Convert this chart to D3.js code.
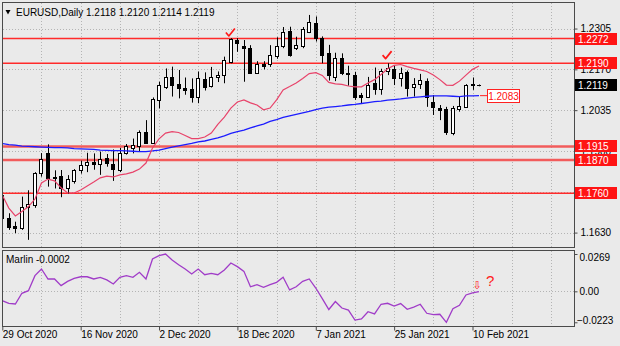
<!DOCTYPE html>
<html><head><meta charset="utf-8">
<script src="https://cdn.jsdelivr.net/npm/d3@7"></script>
<style>
html,body{margin:0;padding:0;background:#eaeaea;}
svg{display:block;font-family:"Liberation Sans",Arial,sans-serif;}
</style></head><body>
<svg id="c" width="620" height="346"></svg>
<script>
const dates = ["2020-10-29","2020-10-30","2020-11-02","2020-11-03","2020-11-04","2020-11-05","2020-11-06","2020-11-09","2020-11-10","2020-11-11",
"2020-11-12","2020-11-13","2020-11-16","2020-11-17","2020-11-18","2020-11-19","2020-11-20","2020-11-23","2020-11-24","2020-11-25",
"2020-11-26","2020-11-27","2020-11-30","2020-12-01","2020-12-02","2020-12-03","2020-12-04","2020-12-07","2020-12-08","2020-12-09",
"2020-12-10","2020-12-11","2020-12-14","2020-12-15","2020-12-16","2020-12-17","2020-12-18","2020-12-21","2020-12-22","2020-12-23",
"2020-12-24","2020-12-28","2020-12-29","2020-12-30","2020-12-31","2021-01-04","2021-01-05","2021-01-06","2021-01-07","2021-01-08",
"2021-01-11","2021-01-12","2021-01-13","2021-01-14","2021-01-15","2021-01-18","2021-01-19","2021-01-20","2021-01-21","2021-01-22",
"2021-01-25","2021-01-26","2021-01-27","2021-01-28","2021-01-29","2021-02-01","2021-02-02","2021-02-03","2021-02-04","2021-02-05",
"2021-02-08","2021-02-09","2021-02-10","2021-02-11"];

const open = [1.1754,1.1677,1.1652,1.1645,1.1716,1.1721,1.1826,1.1892,1.1815,1.1817,
1.1777,1.1802,1.1837,1.1854,1.1865,1.1857,1.1876,1.1856,1.1837,1.1894,
1.1909,1.1916,1.1964,1.1925,1.2069,1.2111,1.2146,1.2121,1.2107,1.2104,
1.2080,1.2137,1.2116,1.2144,1.2151,1.2195,1.2267,1.2248,1.2242,1.2159,
1.2187,1.2188,1.2215,1.2248,1.2297,1.2240,1.2248,1.2295,1.2324,1.2273,
1.2223,1.2146,1.2207,1.2159,1.2151,1.2085,1.2080,1.2126,1.2104,1.2165,
1.2170,1.2140,1.2160,1.2113,1.2121,1.2132,1.2063,1.2043,1.2038,1.1958,
1.2038,1.2046,1.2120,1.2118];
const high = [1.1762,1.1694,1.1666,1.1749,1.1770,1.1830,1.1893,1.1922,1.1836,1.1837,
1.1820,1.1840,1.1868,1.1894,1.1892,1.1898,1.1890,1.1905,1.1910,1.1923,
1.1941,1.1968,1.2002,1.2077,1.2129,1.2173,1.2179,1.2168,1.2143,1.2140,
1.2163,1.2160,1.2178,1.2163,1.2212,1.2273,1.2273,1.2267,1.2250,1.2197,
1.2197,1.2250,1.2276,1.2310,1.2311,1.2278,1.2310,1.2350,1.2345,1.2279,
1.2251,1.2225,1.2223,1.2182,1.2162,1.2092,1.2145,1.2176,1.2172,1.2190,
1.2184,1.2176,1.2166,1.2141,1.2155,1.2140,1.2085,1.2052,1.2046,1.2049,
1.2080,1.2121,1.2143,1.2120];
const low = [1.1662,1.1639,1.1628,1.1639,1.1606,1.1712,1.1815,1.1782,1.1776,1.1747,
1.1758,1.1792,1.1825,1.1830,1.1838,1.1821,1.1848,1.1801,1.1830,1.1888,
1.1892,1.1900,1.1923,1.1923,1.2041,1.2105,1.2080,1.2074,1.2086,1.2060,
1.2058,1.2100,1.2110,1.2128,1.2124,1.2190,1.2228,1.2129,1.2155,1.2155,
1.2170,1.2178,1.2205,1.2240,1.2212,1.2234,1.2240,1.2290,1.2262,1.2190,
1.2133,1.2131,1.2151,1.2116,1.2069,1.2058,1.2075,1.2086,1.2086,1.2151,
1.2118,1.2113,1.2080,1.2080,1.2105,1.2046,1.2019,1.2002,1.1953,1.1952,
1.2030,1.2044,1.2102,1.2114];
const close = [1.1677,1.1650,1.1645,1.1716,1.1725,1.1826,1.1872,1.1810,1.1812,1.1777,
1.1806,1.1837,1.1854,1.1865,1.1857,1.1872,1.1860,1.1840,1.1894,1.1916,
1.1920,1.1964,1.1927,1.2072,1.2118,1.2146,1.2118,1.2107,1.2102,1.2080,
1.2140,1.2113,1.2144,1.2151,1.2201,1.2269,1.2256,1.2242,1.2159,1.2187,
1.2181,1.2217,1.2248,1.2295,1.2217,1.2251,1.2302,1.2328,1.2275,1.2217,
1.2151,1.2207,1.2157,1.2155,1.2080,1.2080,1.2118,1.2104,1.2164,1.2173,
1.2140,1.2159,1.2107,1.2120,1.2134,1.2080,1.2045,1.2035,1.1964,1.2041,
1.2050,1.2118,1.2118,1.2119];

const maFast = [1.1754,1.1711,1.1685,1.1700,1.1716,1.1741,1.1794,1.1807,1.1801,1.1778,
1.1761,1.1761,1.1771,1.1784,1.1797,1.1811,1.1817,1.1814,1.1821,1.1824,
1.1830,1.1840,1.1860,1.1910,1.1940,1.1959,1.1964,1.1961,1.1951,1.1941,
1.1941,1.1946,1.1959,1.1988,1.2012,1.2042,1.2062,1.2069,1.2059,1.2052,
1.2036,1.2042,1.2069,1.2102,1.2113,1.2125,1.2140,1.2156,1.2159,1.2150,
1.2127,1.2122,1.2120,1.2115,1.2112,1.2112,1.2125,1.2136,1.2153,1.2172,
1.2183,1.2186,1.2179,1.2173,1.2168,1.2163,1.2151,1.2136,1.2118,1.2117,
1.2131,1.2151,1.2170,1.2181];
const maSlow = [1.1925,1.1921,1.1919,1.1916,1.1915,1.1914,1.1913,1.1912,1.1911,1.1911,
1.1910,1.1908,1.1907,1.1906,1.1905,1.1903,1.1902,1.1901,1.1901,1.1900,
1.1899,1.1898,1.1898,1.1900,1.1903,1.1908,1.1913,1.1917,1.1921,1.1925,
1.1930,1.1933,1.1938,1.1943,1.1950,1.1958,1.1964,1.1969,1.1976,1.1983,
1.1989,1.1998,1.2004,1.2011,1.2016,1.2021,1.2026,1.2031,1.2037,1.2042,
1.2045,1.2047,1.2049,1.2052,1.2054,1.2057,1.2060,1.2063,1.2065,1.2068,
1.2070,1.2072,1.2075,1.2077,1.2079,1.2081,1.2082,1.2082,1.2082,1.2081,
1.2080,1.2082,1.2082,1.2083];
const marlin = [-0.0068,-0.0086,-0.0091,-0.0014,0.0005,0.0113,0.0161,0.0089,0.0089,0.0041,
0.0072,0.0094,0.0105,0.0105,0.0089,0.0101,0.0082,0.0053,0.0101,0.0113,
0.0101,0.0137,0.0089,0.0233,0.0257,0.0269,0.0226,0.0192,0.0161,0.0125,
0.0161,0.0120,0.0130,0.0120,0.0154,0.0204,0.0178,0.0144,0.0033,0.0048,
0.0029,0.0048,0.0065,0.0101,0.0010,0.0033,0.0072,0.0089,0.0024,-0.0052,
-0.0131,-0.0073,-0.0120,-0.0135,-0.0207,-0.0199,-0.0147,-0.0163,-0.0093,-0.0086,
-0.0106,-0.0088,-0.0129,-0.0113,-0.0093,-0.0158,-0.0168,-0.0165,-0.0223,-0.0125,
-0.0101,-0.0026,-0.0011,-0.0002];

const priceTicks = [1.2305,1.2170,1.2035,1.1900,1.1765,1.1630];
const hiddenTickLabels = [1.1765];
const levels = [1.2272,1.2190,1.1915,1.1870,1.1760];
const levelWide = [false,false,true,true,false];
const lastPrice = 1.2119;
const maLabel = 1.2083;
const marlinTicks = [0.0269,0,-0.0223];
const dateTickIdx = [0,12,24,36,48,60,72];
const checkIdx = [35,59];
const checkPrice = [1.2292,1.2217];
const titleText = "EURUSD,Daily 1.2118 1.2120 1.2114 1.2119";
const marlinTitle = "Marlin -0.0002";

const svg = d3.select("#c");
svg.append("rect").attr("width",620).attr("height",346).attr("fill","#eaeaea");

const x = d3.scaleLinear().domain([0,72]).range([2.3,472.5]);
const y = d3.scaleLinear().domain([1.15823,1.23895]).range([247,3]);
const ym = d3.scaleLinear().domain([-0.02569,0.02978]).range([327,250]);
const parse = d3.timeParse("%Y-%m-%d");
const fmt = d3.timeFormat("%-d %b %Y");

const defs = svg.append("defs");
defs.append("clipPath").attr("id","cm").append("rect").attr("x",3).attr("y",3).attr("width",571).attr("height",244);
defs.append("clipPath").attr("id","ci").append("rect").attr("x",3).attr("y",251).attr("width",571).attr("height",75);

// grid
const gridIdx = d3.range(6,85,6);
const gridCol = "#b4b4b4";
const gm = svg.append("g").attr("clip-path","url(#cm)");
gm.selectAll("line.v").data(gridIdx).join("line")
  .attr("x1",d=>Math.round(x(d))+0.5).attr("x2",d=>Math.round(x(d))+0.5)
  .attr("y1",3).attr("y2",247).attr("stroke",gridCol).attr("stroke-dasharray","1,2");
gm.selectAll("line.h").data(priceTicks).join("line")
  .attr("x1",3).attr("x2",574).attr("y1",d=>Math.round(y(d))+0.5).attr("y2",d=>Math.round(y(d))+0.5)
  .attr("stroke",gridCol).attr("stroke-dasharray","1,2");
const gi = svg.append("g").attr("clip-path","url(#ci)");
gi.selectAll("line.v").data(gridIdx).join("line")
  .attr("x1",d=>Math.round(x(d))+0.5).attr("x2",d=>Math.round(x(d))+0.5)
  .attr("y1",251).attr("y2",326).attr("stroke",gridCol).attr("stroke-dasharray","1,2");
gi.append("line").attr("x1",3).attr("x2",574).attr("y1",Math.round(ym(0))+0.5).attr("y2",Math.round(ym(0))+0.5)
  .attr("stroke",gridCol).attr("stroke-dasharray","1,2");

// level lines
gm.selectAll("line.lvl").data(levels).join("line")
  .attr("x1",3).attr("x2",574).attr("y1",d=>y(d)).attr("y2",d=>y(d))
  .attr("stroke",(d,i)=>levelWide[i]?"#f25c5c":"#ff2a2a")
  .attr("stroke-width",(d,i)=>levelWide[i]?2.6:1.5);

// candles
const bars = dates.map((d,i)=>({i,o:open[i],h:high[i],l:low[i],c:close[i]}));
const cx = i=>Math.round(x(i))+0.5;
gm.selectAll("line.wick").data(bars).join("line")
  .attr("x1",d=>cx(d.i)).attr("x2",d=>cx(d.i))
  .attr("y1",d=>y(d.h)).attr("y2",d=>y(d.l)).attr("stroke","#000").attr("stroke-width",1);
gm.selectAll("rect.body").data(bars).join("rect")
  .attr("x",d=>cx(d.i)-2).attr("width",3)
  .attr("y",d=>Math.round(y(Math.max(d.o,d.c)))+0.5)
  .attr("height",d=>Math.max(0.01,Math.round(y(Math.min(d.o,d.c)))-Math.round(y(Math.max(d.o,d.c)))))
  .attr("fill",d=>d.c>=d.o?"#fff":"#000").attr("stroke","#000").attr("stroke-width",1);

// moving averages
const lineP = d3.line().x((d,i)=>x(i)).y(d=>y(d));
gm.append("path").attr("d",lineP(maSlow)).attr("fill","none").attr("stroke","#1c1cff").attr("stroke-width",1.3);
gm.append("path").attr("d",lineP(maFast)).attr("fill","none").attr("stroke","#e8436a").attr("stroke-width",1.2);

// check marks
svg.selectAll("path.chk").data(checkIdx).join("path")
  .attr("d",(d,k)=>{const px=x(d)-1, py=y(checkPrice[k]); return `M${px-4},${py} L${px-1},${py+3.5} L${px+5},${py-4}`;})
  .attr("fill","none").attr("stroke","#ff1a1a").attr("stroke-width",1.7).attr("stroke-linejoin","round");

// marlin line
const lineM = d3.line().x((d,i)=>x(i)).y(d=>ym(d));
gi.append("path").attr("d",lineM(marlin)).attr("fill","none").attr("stroke","#a03cc8").attr("stroke-width",1.3);

// frames
svg.append("rect").attr("x",2.5).attr("y",2.5).attr("width",572).attr("height",245).attr("fill","none").attr("stroke","#4a4a4a");
svg.append("rect").attr("x",2.5).attr("y",250.5).attr("width",572).attr("height",76).attr("fill","none").attr("stroke","#4a4a4a");

// price axis
const ax = svg.append("g").attr("transform","translate(574.5,0)")
  .call(d3.axisRight(y).tickValues(priceTicks).tickSize(3).tickPadding(3)
    .tickFormat(d=>hiddenTickLabels.includes(d)?"":d3.format(".4f")(d)));
ax.select(".domain").remove();
ax.selectAll("line").attr("stroke","#4a4a4a");
ax.selectAll("text").attr("font-size",10).attr("fill","#000").attr("font-family","Liberation Sans, Arial, sans-serif");

// level boxes
const lb = svg.append("g");
lb.selectAll("rect").data(levels).join("rect")
  .attr("x",575).attr("y",d=>Math.round(y(d))-6).attr("width",42).attr("height",12).attr("fill","#ff1414");
lb.selectAll("text").data(levels).join("text")
  .attr("x",578).attr("y",d=>Math.round(y(d))).attr("dy","0.36em")
  .attr("font-size",10).attr("fill","#fff").text(d=>d.toFixed(4));
svg.append("rect").attr("x",575).attr("y",Math.round(y(lastPrice))-6).attr("width",42).attr("height",12).attr("fill","#000");
svg.append("text").attr("x",578).attr("y",Math.round(y(lastPrice))).attr("dy","0.36em")
  .attr("font-size",10).attr("fill","#fff").text(lastPrice.toFixed(4));

// MA value label
const yl = y(maLabel);
svg.append("line").attr("x1",x(73)+1).attr("x2",487).attr("y1",yl).attr("y2",yl).attr("stroke","#ff2020");
svg.append("rect").attr("x",487.5).attr("y",Math.round(yl)-6.5).attr("width",32).attr("height",13)
  .attr("fill","#fff").attr("stroke","#ff2020");
svg.append("text").attr("x",503.5).attr("y",Math.round(yl)).attr("dy","0.36em").attr("text-anchor","middle")
  .attr("font-size",10).attr("fill","#ff1010").text(maLabel.toFixed(4));

// title
svg.append("path").attr("d","M5.5,10 L10.5,10 L8,14.5Z").attr("fill","#000");
svg.append("text").attr("x",16).attr("y",16).attr("font-size",10).attr("fill","#000").text(titleText);
svg.append("text").attr("x",6).attr("y",262.5).attr("font-size",10).attr("fill","#000").text(marlinTitle);

// marlin axis
const am = svg.append("g").attr("transform","translate(574.5,0)")
  .call(d3.axisRight(ym).tickValues(marlinTicks).tickSize(3).tickPadding(3)
    .tickFormat(d=>d===0?"0.00":d3.format(".4f")(d)));
am.select(".domain").remove();
am.selectAll("line").attr("stroke","#4a4a4a");
am.selectAll("text").attr("font-size",10).attr("fill","#000")
  .attr("y",d=>d>0.02?3:(d<-0.02?-1.5:0)).attr("x",d=>d<0?2.5:5);

// date axis
const axd = svg.append("g").attr("transform","translate(0,326.5)")
  .call(d3.axisBottom(x).tickValues(dateTickIdx).tickSize(4).tickFormat(i=>fmt(parse(dates[i]))));
axd.select(".domain").remove();
axd.selectAll("line").attr("stroke","#4a4a4a");
axd.selectAll("text").attr("font-size",10).attr("fill","#000").attr("text-anchor","start").attr("x",0).attr("y",4.5);

// annotations in indicator
const ax72 = x(72);
svg.append("text").attr("x",ax72+4.5).attr("y",289).attr("text-anchor","middle")
  .attr("font-family","DejaVu Sans").attr("font-size",11).attr("fill","#ff2020").text("\u21E9");
svg.append("text").attr("x",ax72+13.5).attr("y",285.5)
  .attr("font-size",15).attr("fill","#ff2020").text("?");
</script></body></html>
